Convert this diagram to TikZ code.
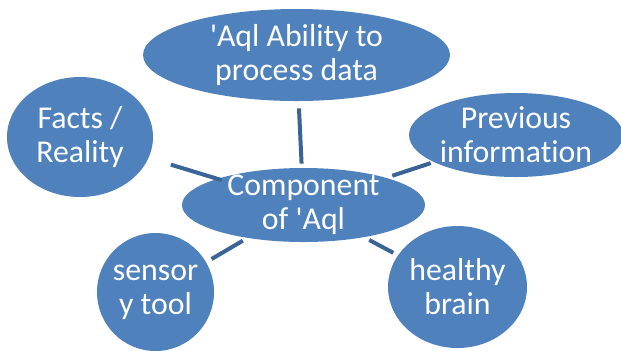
\documentclass[tikz,border=0pt]{standalone}
\usepackage{fontspec}
\newfontfamily\blobfont{Carlito}[Ligatures={NoCommon}]
\usetikzlibrary{shapes.geometric}
\definecolor{blobfill}{HTML}{4F81BD}
\definecolor{linkcol}{HTML}{3B6496}
\tikzset{
  blob/.style={ellipse, fill=blobfill, draw=none, inner sep=-4pt, text=white, align=center,
    font=\blobfont\fontsize{15.9}{17}\selectfont},
  link/.style={draw=linkcol, line width=2pt}
}
\begin{document}
\begin{tikzpicture}[x=0.5pt, y=-0.5pt]
\useasboundingbox (0,0) rectangle (621,350);
\node[blob, minimum width=153.5pt, minimum height=46pt] (top) at (296.5,55) {'Aql Ability to\\process data};
\node[blob, minimum width=73pt, minimum height=60pt] (facts) at (80,137) {Facts /\\Reality};
\node[blob, minimum width=107pt, minimum height=42pt] (prev) at (516,135) {Previous\\information};
\node[blob, minimum width=121.5pt, minimum height=37pt] (comp) at (303.5,205) {Component\\of 'Aql};
\node[blob, minimum width=58.5pt, minimum height=59pt] (sensor) at (155.5,292) {sensor\\y tool};
\node[blob, minimum width=69.5pt, minimum height=61pt] (brain) at (457.5,287) {healthy\\brain};
\draw[link, shorten <=3.5pt, shorten >=2pt] (top) -- (comp);
\draw[link, shorten <=11.5pt, shorten >=-2.5pt] (facts) -- (comp);
\draw[link, shorten <=1.5pt, shorten >=3pt] (prev) -- (comp);
\draw[link, shorten <=3pt, shorten >=2.5pt] (sensor) -- (comp);
\draw[link, shorten <=2.5pt, shorten >=2.75pt] (brain) -- (comp);
\end{tikzpicture}
\end{document}
